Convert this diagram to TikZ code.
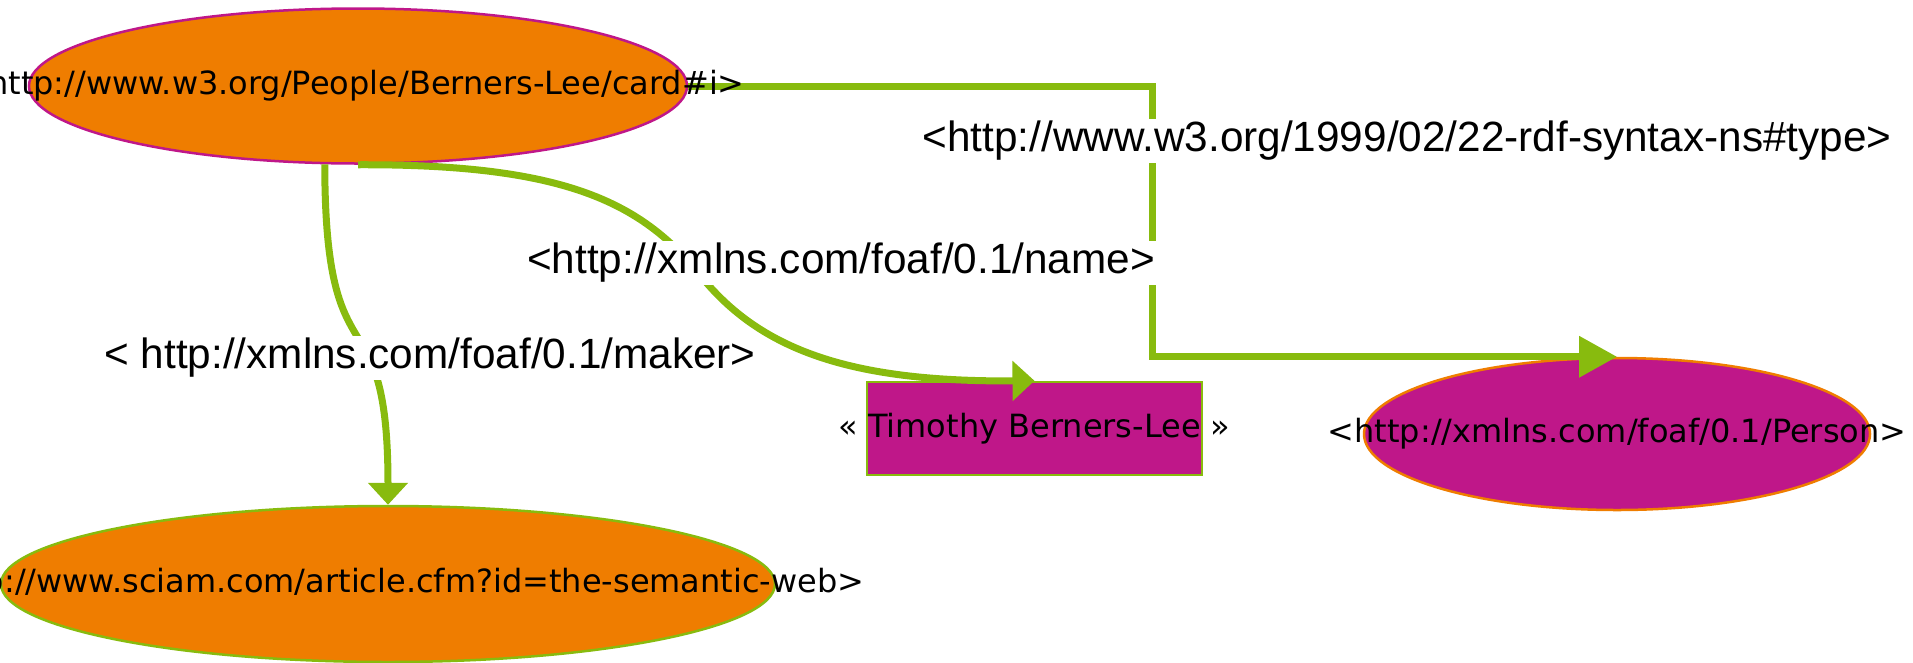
\documentclass[tikz,border=0pt]{standalone}
\usepackage{fontspec}
\setmainfont{DejaVu Sans}
\newfontfamily\edgefont{Liberation Sans}
\usetikzlibrary{arrows.meta,shapes.geometric}

\definecolor{rdforange}{RGB}{239,125,0}
\definecolor{rdfmagenta}{RGB}{191,23,137}
\definecolor{rdfgreen}{RGB}{136,187,14}

\tikzset{
  uri/.style={ellipse, line width=2.5pt, inner sep=0pt},
  nodetext/.style={font=\fontsize{32}{36}\selectfont, inner sep=0pt},
  edge/.style={draw=rdfgreen, line width=7pt},
  edgelabel/.style={font=\edgefont\fontsize{42.3}{48}\selectfont, fill=white, inner sep=2pt}
}

\begin{document}
\begin{tikzpicture}[x=1pt,y=-1pt]

\useasboundingbox (0,0) rectangle (1913,662);

\node [uri,
    draw=rdfmagenta,
    fill=rdforange,
    minimum width=658,
    minimum height=155] (card) at (358,86){};

\node [uri,
    draw=rdfgreen,
    fill=rdforange,
    minimum width=774,
    minimum height=156] (article) at (388,584){};

\node [draw=rdfgreen,
    fill=rdfmagenta,
    line width=2.5pt,
    minimum width=335,
    minimum height=93] (name) at (1034.5,428.5){};

\node [uri,
    draw=rdforange,
    fill=rdfmagenta,
    minimum width=506,
    minimum height=152] (person) at (1617,434){};

\coordinate (typebend) at (1152,0);

% edges
\draw [edge, -{Triangle[length=38pt,width=40pt]}]
    (card.east) -| (typebend |- person.north) -- (person.north);
\draw [edge, -{Triangle[length=22pt,width=39pt]}]
    (card.south) .. controls (560,164) and (640,200) .. (700,275)
    .. controls (760,350) and (850,382) .. (name.north);
\draw [edge, -{Triangle[length=22pt,width=39pt]}]
    (card.247) .. controls (325,393) and (388,285) .. (article.north);

% edge labels
\node [edgelabel] (typelabel) at (1407,141) {<http://www.w3.org/1999/02/22-rdf-syntax-ns\#type>};
\node [edgelabel] (namelabel) at (841,263) {<http://xmlns.com/foaf/0.1/name>};
\node [edgelabel] (makerlabel) at (430,358) {< http://xmlns.com/foaf/0.1/maker>};

% node texts
\node [nodetext] (cardtext) at ([xshift=-5pt]card.center) {<http://www.w3.org/People/Berners-Lee/card\#i>};
\node [nodetext] (articletext) at (article.center) {<http://www.sciam.com/article.cfm?id=the-semantic-web>};
\node [nodetext] (nametext) at (name.center) {« Timothy Berners-Lee »};
\node [nodetext] (persontext) at (person.center) {<http://xmlns.com/foaf/0.1/Person>};

\end{tikzpicture}
\end{document}
